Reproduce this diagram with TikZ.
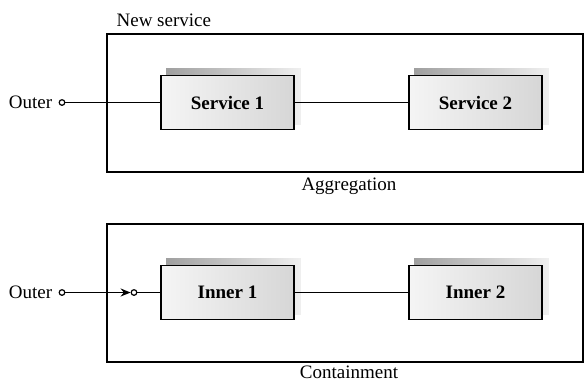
\documentclass[tikz,border=0pt]{standalone}
\usepackage{fontspec}
\setmainfont{Liberation Serif}
\usepackage{tikz}
\usetikzlibrary{positioning,backgrounds,arrows.meta}

\begin{document}
\begin{tikzpicture}[x=0.5pt,y=-0.5pt,font=\fontsize{9.5}{11}\selectfont,
  frame/.style={draw,line width=0.8pt,minimum width=238pt,minimum height=69pt,inner sep=0pt},
  svc/.style={draw,line width=0.8pt,minimum width=66.5pt,minimum height=27pt,inner sep=0pt,
    left color=gray!8,right color=gray!32,font=\fontsize{9.5}{11}\selectfont\bfseries},
  port/.style={circle,draw,line width=0.6pt,inner sep=0pt,minimum size=2.8pt,fill=white},
  caption/.style={inner sep=0.5pt},
  link/.style={line width=0.8pt}]
 \useasboundingbox (0,0) rectangle (584,382);
 % aggregation
 \node[frame] (agg) at (345,103) {};
 \node[anchor=south west,inner sep=1pt] (aggname) at ([xshift=4pt,yshift=2pt]agg.north west) {New service};
 \node[caption,below=2pt of agg,xshift=2pt] (agglab) {Aggregation};
 \node[svc] (s1) at (227.5,102.5) {Service 1};
 \node[svc] (s2) at (475.5,102.5) {Service 2};
 \node[port] (out1) at (62,102.5) {};
 \node[left=3pt of out1,inner sep=0pt] (outlab1) {Outer};
 % containment
 \node[frame] (con) at (345,293) {};
 \node[caption,below=1pt of con,xshift=2pt] (conlab) {Containment};
 \node[svc] (i1) at (227.5,292.5) {Inner 1};
 \node[svc] (i2) at (475.5,292.5) {Inner 2};
 \node[port] (out2) at (62,292.5) {};
 \node[left=3pt of out2,inner sep=0pt] (outlab2) {Outer};
 \node[port] (in2) at (134,292.5) {};
 \begin{scope}[on background layer]
  \foreach \b in {s1,s2,i1,i2}
   \shade[left color=gray!75,right color=gray!12]
     ([shift={(3pt,3pt)}]\b.south west) rectangle ([shift={(3pt,3pt)}]\b.north east);
 \end{scope}
 \path[link]
   (out1) edge (s1)
   (s1)   edge (s2)
   (out2) edge[-{Stealth[length=5pt,width=4pt]}] (in2)
   (in2)  edge (i1)
   (i1)   edge (i2);
\end{tikzpicture}
\end{document}
